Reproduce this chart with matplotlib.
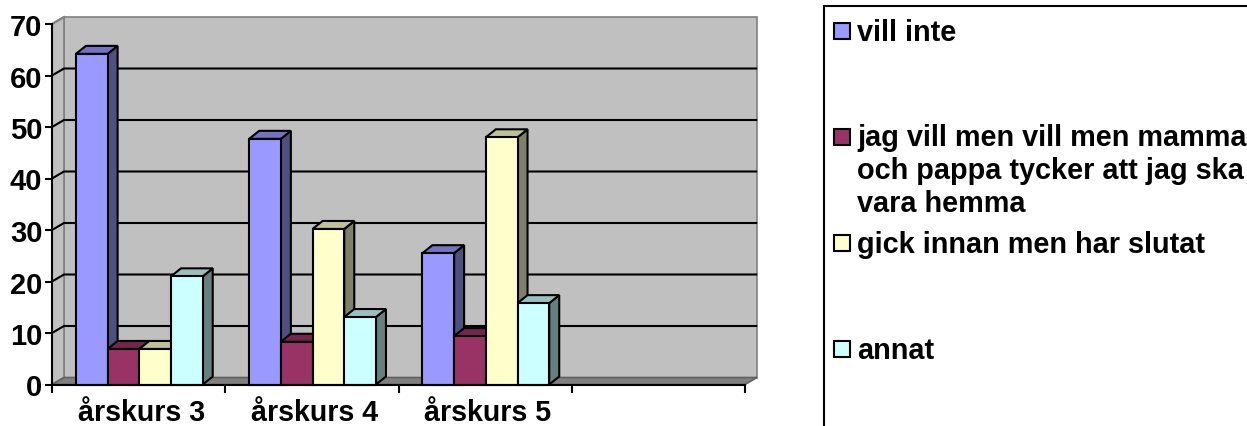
import matplotlib
matplotlib.use("Agg")
import matplotlib.pyplot as plt
from matplotlib.patches import Polygon, Rectangle

plt.rcParams['font.family'] = ['Liberation Sans', 'DejaVu Sans']
plt.rcParams['font.weight'] = 'bold'

categories = ['årskurs 3', 'årskurs 4', 'årskurs 5', '']
series_names = ['vill inte',
                'jag vill men vill men mamma\noch pappa tycker att jag ska\nvara hemma',
                'gick innan men har slutat',
                'annat']
vill_inte = [64.2, 47.7, 25.5, 0]
jag_vill = [6.9, 8.3, 9.4, 0]
gick_innan = [6.9, 30.2, 48.0, 0]
annat = [21.0, 13.1, 15.8, 0]
series = [vill_inte, jag_vill, gick_innan, annat]
y_ticks = [0, 10, 20, 30, 40, 50, 60, 70]

front = ['#9999FF', '#993366', '#FFFFCC', '#CCFFFF']
side = ['#4F4F80', '#4D1A33', '#808066', '#668080']
top = ['#7373BF', '#73264D', '#BFBF99', '#99BFBF']

W, H = 1247, 427
fig = plt.figure(figsize=(W / 100, H / 100), dpi=100, facecolor='white')
ax = fig.add_axes([52 / W, (H - 385.5) / H, 693 / W, 360.5 / H])
ax.set_xlim(0, 4)
ax.set_ylim(0, 70)
ax.set_facecolor('none')

dx = 12 / 173.25
dy = 7 / 5.15
bar_dx = 10 / 173.25
bar_dy = 8 / 5.15
LW = 1.5


def poly(pts, fc, ec='black', lw=LW, z=2):
    ax.add_patch(Polygon(pts, closed=True, fc=fc, ec=ec, lw=lw, zorder=z,
                         clip_on=False, joinstyle='miter'))


# walls and floor
poly([(dx, dy), (4 + dx, dy), (4 + dx, 70 + dy), (dx, 70 + dy)], '#C0C0C0', '#808080', 1.2, 1)
poly([(0, 0), (dx, dy), (dx, 70 + dy), (0, 70)], '#C0C0C0', '#808080', 1.2, 1)
poly([(0, 0), (4, 0), (4 + dx, dy), (dx, dy)], '#808080', '#606060', 1.2, 1.1)

# gridlines on the back wall and the side wall
for v in y_ticks[1:-1]:
    ax.plot([0, dx, 4 + dx - 0.005], [v, v + dy, v + dy], color='black', lw=LW,
            zorder=1.5, clip_on=False, solid_joinstyle='miter')
ax.plot([0, dx], [70, 70 + dy], color='#808080', lw=LW, zorder=1.5, clip_on=False)

# bars
bar_w = 0.183
start = (1 - 4 * bar_w) / 2 + 0.004
z = 3
for c in range(3):
    for s, vals in enumerate(series):
        v = vals[c]
        x0 = c + start + s * bar_w
        x1 = x0 + bar_w
        poly([(x1, 0), (x1 + bar_dx, bar_dy), (x1 + bar_dx, v + bar_dy), (x1, v)], side[s], z=z)
        poly([(x0, v), (x1, v), (x1 + bar_dx, v + bar_dy), (x0 + bar_dx, v + bar_dy)], top[s], z=z)
        poly([(x0, 0), (x1, 0), (x1, v), (x0, v)], front[s], z=z)
        z += 1

# axes
for name in ('top', 'right'):
    ax.spines[name].set_visible(False)
for name in ('left', 'bottom'):
    ax.spines[name].set_linewidth(LW)
    ax.spines[name].set_zorder(50)
ax.set_yticks(y_ticks)
ax.set_xticks(range(5))
ax.set_xticklabels([])
ax.set_xticks([i + 0.516 for i in range(4)], minor=True)
ax.set_xticklabels(categories, minor=True, fontsize=20.6, fontweight='bold')
ax.tick_params(axis='x', which='major', length=6, width=LW)
ax.tick_params(axis='x', which='minor', length=0, pad=10)
ax.tick_params(axis='y', length=5, width=LW, pad=2, labelsize=21)

# legend panel
lg = fig.add_axes([0, 0, 1, 1], facecolor='none')
lg.set_xlim(0, W)
lg.set_ylim(H, 0)
lg.axis('off')
lg.add_patch(Rectangle((824, 7), 500, 500, fc='white', ec='black', lw=LW))
swatch_y = [23.5, 130, 236, 342]
text_y = [33, 124.5, 245, 351]
for name, c, sy, ty in zip(series_names, front, swatch_y, text_y):
    lg.add_patch(Rectangle((834, sy), 16, 16, fc=c, ec='black', lw=LW))
    lg.text(857, ty, name, fontsize=20.8, fontweight='bold',
            va='top' if '\n' in name else 'center', ha='left', linespacing=1.21)

fig.savefig('out.png', dpi=100)
